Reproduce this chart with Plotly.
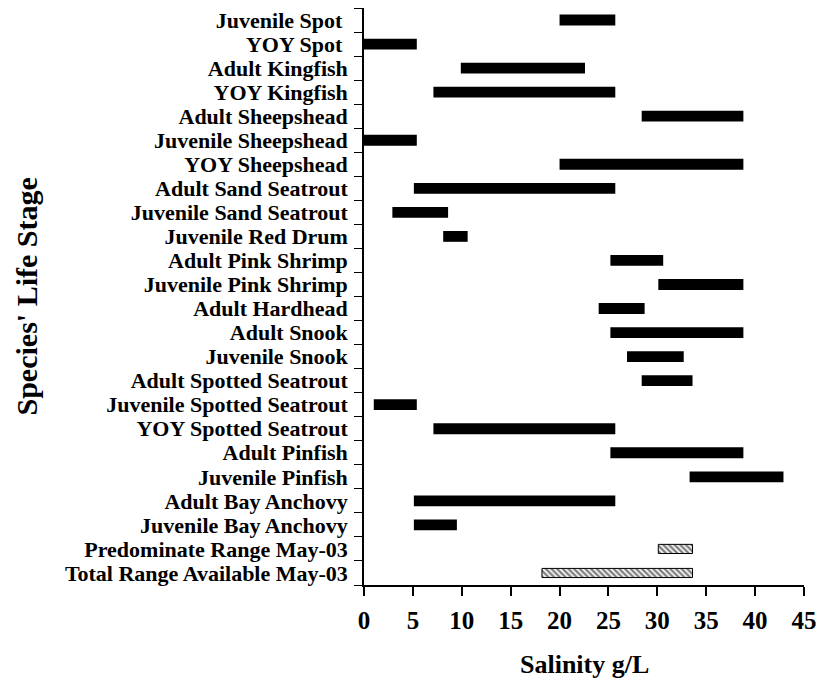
import plotly.graph_objects as go

categories = [
    "Juvenile Spot\u00a0", "YOY Spot\u00a0", "Adult Kingfish", "YOY Kingfish",
    "Adult Sheepshead", "Juvenile Sheepshead", "YOY Sheepshead",
    "Adult Sand Seatrout", "Juvenile Sand Seatrout", "Juvenile Red Drum",
    "Adult Pink Shrimp", "Juvenile Pink Shrimp", "Adult Hardhead",
    "Adult Snook", "Juvenile Snook", "Adult Spotted Seatrout",
    "Juvenile Spotted Seatrout", "YOY Spotted Seatrout", "Adult Pinfish",
    "Juvenile Pinfish", "Adult Bay Anchovy", "Juvenile Bay Anchovy",
    "Predominate Range May-03", "Total Range Available May-03",
]
range_min = [20.0, 0.0, 9.9, 7.1, 28.4, 0.0, 20.0, 5.1, 2.9, 8.1,
             25.2, 30.1, 24.0, 25.2, 26.9, 28.4, 1.0, 7.1, 25.2, 33.3,
             5.1, 5.1, 30.1, 18.2]
range_max = [25.7, 5.4, 22.6, 25.7, 38.8, 5.4, 38.8, 25.7, 8.6, 10.6,
             30.6, 38.8, 28.7, 38.8, 32.7, 33.6, 5.4, 25.7, 38.8, 42.9,
             25.7, 9.5, 33.6, 33.6]
x_ticks = [0, 5, 10, 15, 20, 25, 30, 35, 40, 45]

n_species = 22
species_cats = categories[:n_species]
may_cats = categories[n_species:]

font_family = "Liberation Serif, Times New Roman, serif"

W, H = 819, 690
L, R, T, B = 364, 15, 8, 105
plot_w = W - L - R
plot_h = H - T - B

fig = go.Figure()
fig.add_trace(go.Bar(
    y=species_cats,
    x=[b - a for a, b in zip(range_min[:n_species], range_max[:n_species])],
    base=range_min[:n_species],
    orientation="h",
    width=0.45,
    marker=dict(color="black", line=dict(color="black", width=0)),
    showlegend=False,
))
fig.add_trace(go.Bar(
    y=may_cats,
    x=[b - a for a, b in zip(range_min[n_species:], range_max[n_species:])],
    base=range_min[n_species:],
    orientation="h",
    width=0.38,
    marker=dict(
        color="white",
        line=dict(color="black", width=1),
        pattern=dict(shape="\\", fgcolor="black", bgcolor="white", size=4, solidity=0.6),
    ),
    showlegend=False,
))

fig.update_layout(
    width=W, height=H,
    margin=dict(l=L, r=R, t=T, b=B),
    paper_bgcolor="white", plot_bgcolor="white",
    barmode="overlay",
    font=dict(family=font_family, color="black"),
    xaxis=dict(
        range=[0, 45], tickvals=x_ticks, ticks="outside", ticklen=9,
        tickwidth=1.5, tickcolor="black", automargin=False,
        ticklabeloverflow="allow",
        showline=True, linecolor="black", linewidth=1.5,
        showgrid=False, zeroline=False,
        tickfont=dict(size=25, family=font_family, weight="bold"),
        ticklabelstandoff=3,
    ),
    yaxis=dict(
        type="category", categoryorder="array", categoryarray=categories,
        tickmode="array", tickvals=categories, ticktext=categories,
        autorange="reversed", automargin=False,
        ticks="outside", ticklen=8, tickwidth=1, tickcolor="black",
        tickson="boundaries",
        showline=True, linecolor="black", linewidth=1.5,
        showgrid=False, zeroline=False,
        tickfont=dict(size=22, family=font_family, weight="bold"),
        ticklabelstandoff=10,
    ),
    annotations=[
        dict(text="<b>Species' Life Stage</b>", textangle=-90,
             xref="paper", yref="paper",
             x=(26 - L) / plot_w, y=0.5, xanchor="center", yanchor="middle",
             showarrow=False, font=dict(size=30, family=font_family)),
        dict(text="<b>Salinity g/L</b>",
             xref="paper", yref="paper",
             x=0.5, y=-(664 - (T + plot_h)) / plot_h, xanchor="center", yanchor="middle",
             showarrow=False, font=dict(size=26, family=font_family)),
    ],
)

fig.write_html(
    "out.html",
    config={"displayModeBar": False},
    post_script="document.body.style.margin='0';document.body.style.overflow='hidden';",
)
